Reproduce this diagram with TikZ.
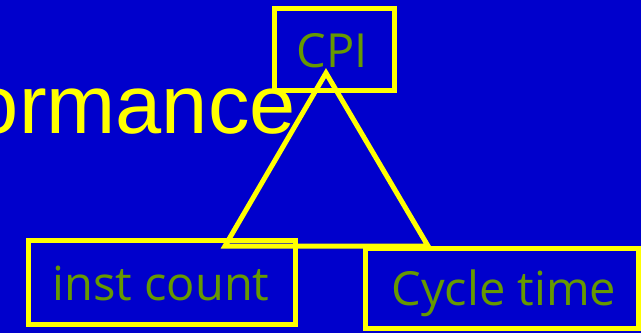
\documentclass[tikz,border=0pt]{standalone}
\usepackage{fontspec}
\setmainfont{Liberation Sans}
\newfontfamily\labelfont{Open Sans}
\definecolor{slideblue}{RGB}{0,0,204}
\definecolor{slideyellow}{RGB}{255,255,0}
\definecolor{labelgreen}{RGB}{102,153,0}
\begin{document}
\begin{tikzpicture}[x=1pt,y=-1pt,
  framebox/.style={draw=slideyellow,line width=5pt,inner sep=0pt},
  labeltext/.style={text=labelgreen,font=\labelfont\fontsize{47}{47}\selectfont},
  edge/.style={draw=slideyellow,line width=5pt,line join=miter}]
  % slide background
  \fill[slideblue] (0,0) rectangle (641,333);
  \useasboundingbox (0,0) rectangle (641,333);
  % heading fragment running off the left edge
  \node[anchor=base east,inner sep=0pt,text=slideyellow,
        font=\fontsize{83}{83}\selectfont] (title) at (296,133) {ormance};
  % boxes
  \draw[framebox] (274.5,8.5) rectangle (394.5,90.5);
  \draw[framebox] (28.5,240.5) rectangle (295.5,324.5);
  \draw[framebox] (365.5,248.5) rectangle (638.5,328);
  % labels
  \node[labeltext,anchor=base] (cpi) at (332,67) {CPI};
  \node[labeltext,anchor=base] (inst) at (161,300) {inst count};
  \node[labeltext,anchor=base] (cycle) at (504,305) {Cycle time};
  % triangle linking the three quantities
  \coordinate (apex) at (326,73);
  \coordinate (baseL) at (225,246);
  \coordinate (baseR) at (428,246);
  \draw[edge] (apex) -- (baseL) -- (baseR) -- cycle;
\end{tikzpicture}
\end{document}
